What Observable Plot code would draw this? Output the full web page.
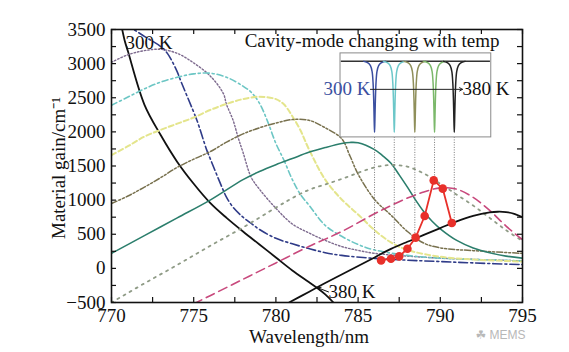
<!DOCTYPE html>
<html>
<head>
<meta charset="utf-8">
<script src="https://cdn.jsdelivr.net/npm/d3@7"></script>
<script src="https://cdn.jsdelivr.net/npm/@observablehq/plot@0.6"></script>
<style>
  html, body { margin: 0; padding: 0; background: #fff; }
  svg { display: block; }
</style>
</head>
<body>
<div id="chart"></div>
<script>
// ---- tick values ----
const xTicks = [770, 775, 780, 785, 790, 795];
const yTicks = [-500, 0, 500, 1000, 1500, 2000, 2500, 3000, 3500];
const xMinorTicks = d3.range(770, 795.01, 2.5);
const yMinorTicks = d3.range(-500, 3500.01, 250);

// ---- gain curves (wavelength nm, gain cm^-1) ----
const wl300 = [770.6, 770.8, 771, 772, 773, 774, 775, 776, 777, 778, 779, 780, 781, 782, 782.5, 783, 783.5];
const g300  = [3560, 3340, 3180, 2400, 1950, 1560, 1240, 960, 740, 540, 350, 160, -30, -200, -285, -380, -500];

const wl310 = [770, 771, 772, 773, 773.4, 774, 774.2, 775, 775.2, 775.8, 776, 776.8, 777, 777.4, 778, 778.5, 779, 780, 781, 782, 783, 784, 786, 788, 790, 792, 795];
const g310  = [3750, 3560, 3400, 3250, 3150, 2880, 2755, 2290, 2168, 1729, 1610, 1143, 1040, 894, 750, 659, 570, 440, 360, 290, 230, 190, 147, 120, 100, 80, 55];

const wl320 = [770, 771, 772, 773, 774, 775, 776, 776.8, 777, 777.4, 777.7, 778, 778.5, 779, 780, 781, 782, 783, 784, 785, 786, 788, 790, 795];
const g320  = [3020, 3130, 3190, 3210, 3150, 3010, 2820, 2564, 2400, 2168, 1919, 1700, 1333, 1160, 880, 650, 520, 410, 320, 264, 220, 180, 150, 110];

const wl330 = [770, 771, 772, 773, 774, 775, 776, 777, 778, 778.5, 779, 779.5, 780, 780.5, 781, 781.5, 782, 783, 784, 785, 786, 788, 790, 795];
const g330  = [2390, 2510, 2630, 2730, 2800, 2850, 2860, 2800, 2670, 2580, 2420, 2150, 1830, 1580, 1300, 1080, 930, 630, 470, 350, 270, 190, 150, 110];

const wl340 = [770, 771, 772, 773, 774, 775, 776, 777, 778, 779, 780, 780.5, 781, 781.5, 782, 783, 784, 785, 786, 787, 788, 790, 792, 795];
const g340  = [1660, 1790, 1930, 2030, 2120, 2210, 2320, 2410, 2480, 2515, 2480, 2400, 2230, 2020, 1750, 1300, 1010, 790, 560, 380, 270, 170, 130, 100];

const wl350 = [770, 771, 772, 773, 774, 775, 776, 777, 778, 779, 780, 781, 782, 783, 784, 784.5, 785, 786, 787, 788, 789, 790, 792, 795];
const g350  = [950, 1060, 1190, 1330, 1480, 1600, 1710, 1850, 1970, 2060, 2130, 2180, 2170, 2060, 1900, 1650, 1380, 1010, 780, 540, 370, 300, 260, 220];

const wl360 = [770, 772, 774, 776, 778, 779, 780, 781, 782, 783, 784, 784.5, 785, 786, 786.5, 787, 787.5, 788, 788.5, 789, 789.5, 790, 791, 792, 793, 794, 795];
const g360  = [220, 480, 740, 1000, 1300, 1420, 1520, 1610, 1700, 1770, 1830, 1845, 1840, 1740, 1650, 1540, 1370, 1190, 1000, 830, 690, 580, 410, 300, 230, 180, 150];

const wl370a = [770, 772, 774, 776, 778, 780, 781, 782, 783, 784, 785, 786, 787, 788, 789, 790, 791, 792, 793, 794, 795];
const g370a  = [-500, -220, 50, 330, 600, 890, 1030, 1150, 1230, 1310, 1400, 1480, 1515, 1490, 1390, 1240, 1080, 920, 740, 560, 400];

const wl370b = [775, 776, 778, 780, 782, 784, 786, 787, 788, 789, 790, 791, 792, 793, 794, 795];
const g370b  = [-520, -400, -160, 80, 320, 540, 800, 920, 1030, 1120, 1180, 1160, 1040, 850, 620, 420];

const wl380 = [780.8, 782, 783, 784, 785, 786, 787, 788, 789, 790, 791, 792, 793, 793.5, 794, 794.5, 795];
const g380  = [-500, -345, -215, -90, 35, 160, 285, 390, 490, 590, 690, 770, 820, 830, 825, 800, 750];

// ---- cavity-mode gain points (red) ----
const modeWl   = [786.4, 787.0, 787.5, 788.0, 788.5, 789.05, 789.6, 790.15, 790.7];
const modeGain = [117, 142, 176, 288, 450, 767, 1289, 1168, 664];

// ---- inset: cavity-mode dips ----
const dipCenters = [786.0, 787.2, 788.45, 789.65, 790.85];
const dipEnds    = [262, 360, 450, 1289, 664];       // where the dotted drop-lines end
const dipOffsets = [-0.65, -0.4, -0.25, -0.15, -0.09, -0.05, -0.02, 0, 0.02, 0.05, 0.09, 0.15, 0.25, 0.4, 0.65];
const dipDepth   = [0, 0.02, 0.06, 0.14, 0.3, 0.55, 0.85, 1, 0.85, 0.55, 0.3, 0.14, 0.06, 0.02, 0];
const insetX = [783.93, 793.1];
const insetY = [1919, 3150];
const insetTop = 3033;
const insetBottom = 1993;
const insetArrowY = 2623;
const insetArrowX = [785.75, 791.35];

// ---- build tables ----
const mk = (wl, g) => wl.map((x, i) => ({x, y: g[i]}));
const series = [
  {d: mk(wl300, g300),   stroke: "#111",    w: 1.8, dash: null},
  {d: mk(wl310, g310),   stroke: "#2f3b88", w: 1.6, dash: "9,3,2,3"},
  {d: mk(wl320, g320),   stroke: "#7d6a8e", w: 1.4, dash: "1.5,2"},
  {d: mk(wl330, g330),   stroke: "#6cc6c4", w: 1.6, dash: "6,3,2,3"},
  {d: mk(wl340, g340),   stroke: "#e4e58c", w: 2.0, dash: "5,3"},
  {d: mk(wl350, g350),   stroke: "#78714e", w: 1.5, dash: "6,2,2,2,2,2"},
  {d: mk(wl360, g360),   stroke: "#2b7e6c", w: 1.6, dash: null},
  {d: mk(wl370a, g370a), stroke: "#8f9b86", w: 1.8, dash: "2,5"},
  {d: mk(wl370b, g370b), stroke: "#c8487c", w: 1.6, dash: "9,5"},
  {d: mk(wl380, g380),   stroke: "#111",    w: 1.8, dash: null}
];
const modes = mk(modeWl, modeGain);
const dipColors = ["#3b4fa0", "#6cc7c9", "#8f8f5a", "#7bb86a", "#222"];
const dips = dipCenters.flatMap((c, k) => dipOffsets.map((o, i) => ({k, x: c + o, y: insetTop - dipDepth[i] * (insetTop - insetBottom)})));
const dropLines = dipCenters.map((c, i) => ({x: c, y1: insetY[0], y2: dipEnds[i]}));

const serif = "'Liberation Serif', 'Times New Roman', Times, serif";

const lineMarks = series.map(s => Plot.line(s.d, {
  x: "x", y: "y", stroke: s.stroke, strokeWidth: s.w,
  strokeDasharray: s.dash, curve: "catmull-rom", clip: true
}));

const chart = Plot.plot({
  width: 569, height: 352,
  marginLeft: 111, marginRight: 47, marginTop: 29, marginBottom: 50,
  style: {fontFamily: serif, fontSize: "19px", background: "#fff", color: "#111"},
  x: {domain: [770, 795], ticks: xTicks, tickSize: 0, tickPadding: 6, label: null},
  y: {domain: [-500, 3500], ticks: yTicks, tickSize: 0, tickPadding: 6, label: null,
      tickFormat: d => String(d).replace("-", "\u2212")},
  marks: [
    ...lineMarks,
    // inset drop lines
    Plot.ruleX(dropLines, {x: "x", y1: "y1", y2: "y2", stroke: "#777", strokeWidth: 1, strokeDasharray: "1,1.5"}),
    // cavity-mode gain
    Plot.line(modes, {x: "x", y: "y", stroke: "#e8302a", strokeWidth: 1.8}),
    Plot.dot(modes, {x: "x", y: "y", r: 4.3, fill: "#e8302a", stroke: "none"}),
    // inset
    Plot.rect([0], {x1: insetX[0], x2: insetX[1], y1: insetY[0], y2: insetY[1], fill: "#fff", stroke: "#8a8a8a", strokeWidth: 1}),
    Plot.ruleY([insetTop], {x1: insetX[0] + 0.05, x2: insetX[1] - 0.05, stroke: "#333", strokeWidth: 1.5}),
    ...dipCenters.map((c, k) => Plot.line(dips.filter(d => d.k === k), {x: "x", y: "y", stroke: dipColors[k], strokeWidth: 1.5, curve: "catmull-rom"})),
    Plot.arrow([0], {x1: insetArrowX[0], x2: insetArrowX[1], y1: insetArrowY, y2: insetArrowY, stroke: "#222", strokeWidth: 1, headLength: 5}),
    Plot.text(["300 K"], {x: insetArrowX[0], y: insetArrowY, textAnchor: "end", fill: "#3b4fa0", fontSize: 19}),
    Plot.text(["380 K"], {x: insetArrowX[1], y: insetArrowY, textAnchor: "start", fill: "#111", fontSize: 19}),
    // annotations
    Plot.text(["Cavity-mode changing with temp"], {x: 778.1, y: 3330, textAnchor: "start", fontSize: 19}),
    Plot.text(["300 K"], {x: 770.85, y: 3300, textAnchor: "start", fontSize: 19}),
    Plot.arrow([0], {x1: 783.2, y1: -345, x2: 782.55, y2: -285, stroke: "#111", strokeWidth: 1, headLength: 5}),
    Plot.text(["380 K"], {x: 783.2, y: -340, textAnchor: "start", fontSize: 19}),
    // ticks (inward on all sides)
    Plot.tickX(xMinorTicks, {x: d => d, insetTop: 268, stroke: "#111", strokeWidth: 1.2}),
    Plot.tickX(xMinorTicks, {x: d => d, insetBottom: 268, stroke: "#111", strokeWidth: 1.2}),
    Plot.tickY(yMinorTicks, {y: d => d, insetRight: 406, stroke: "#111", strokeWidth: 1.2}),
    Plot.tickY(yMinorTicks, {y: d => d, insetLeft: 406, stroke: "#111", strokeWidth: 1.2}),
    Plot.frame({stroke: "#111", strokeWidth: 1.6}),
    // axis titles
    Plot.text(["Wavelength/nm"], {frameAnchor: "bottom", lineAnchor: "middle", textAnchor: "middle", dx: -8, dy: 34, fontSize: 19}),
    Plot.text(["Material gain/cm\u207B\u00B9"], {frameAnchor: "left", textAnchor: "middle", lineAnchor: "middle", rotate: -90, dx: -53, dy: 2, fontSize: 19}),
    // watermark
    Plot.text(["\u2618 MEMS"], {frameAnchor: "bottom-right", dx: 3, dy: 36, textAnchor: "end", fontSize: 12, fill: "#b8b8b8", fontFamily: "'Liberation Sans', 'DejaVu Sans', Arial, sans-serif"})
  ]
});
document.getElementById("chart").appendChild(chart);
</script>
</body>
</html>
